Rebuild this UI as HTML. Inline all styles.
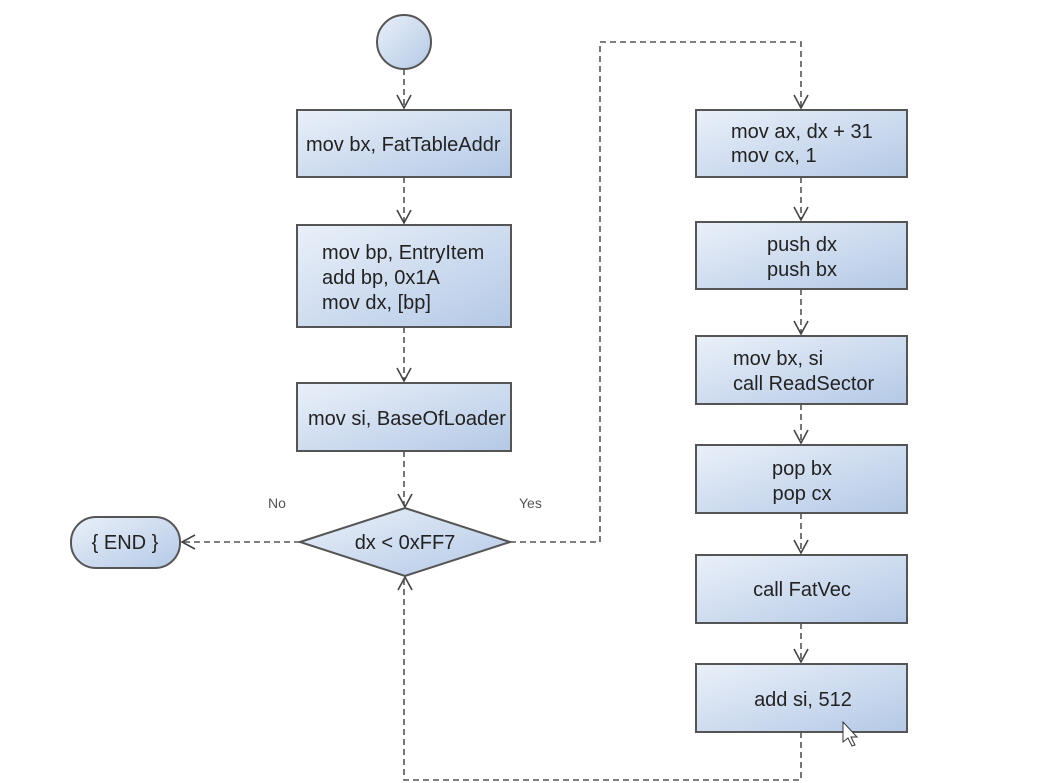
<!DOCTYPE html>
<html><head><meta charset="utf-8"><style>
html,body{margin:0;padding:0;background:#fff;}
svg{display:block;}
text{font-family:"Liberation Sans",sans-serif;font-size:20px;fill:#222;}
</style></head><body>
<svg width="1046" height="783" viewBox="0 0 1046 783" xmlns="http://www.w3.org/2000/svg">
<defs>
<linearGradient id="g" x1="0" y1="0" x2="1" y2="1">
<stop offset="0" stop-color="#eaf0f9"/><stop offset="1" stop-color="#b4c9e6"/>
</linearGradient>
</defs>
<g fill="url(#g)" stroke="#555" stroke-width="2">
<circle cx="404" cy="42" r="27"/>
<rect x="297" y="110" width="214" height="67"/>
<rect x="297" y="225" width="214" height="102"/>
<rect x="297" y="383" width="214" height="68"/>
<polygon points="300,542 405,508 510,542 405,576"/>
<rect x="71" y="517" width="109" height="51" rx="25"/>
<rect x="696" y="110" width="211" height="67"/>
<rect x="696" y="222" width="211" height="67"/>
<rect x="696" y="336" width="211" height="68"/>
<rect x="696" y="445" width="211" height="68"/>
<rect x="696" y="555" width="211" height="68"/>
<rect x="696" y="664" width="211" height="68"/>
</g>
<g fill="none" stroke="#555" stroke-width="1.6" stroke-dasharray="6,4">
<path d="M404 69 V108"/>
<path d="M404 177 V223"/>
<path d="M404 327 V381"/>
<path d="M404 451 V506"/>
<path d="M300 542 H182"/>
<path d="M510 542 H600 V42 H801 V108"/>
<path d="M801 177 V220"/>
<path d="M801 289 V334"/>
<path d="M801 404 V443"/>
<path d="M801 513 V553"/>
<path d="M801 623 V662"/>
<path d="M801 732 V780 H404 V578"/>
</g>
<g fill="none" stroke="#444" stroke-width="1.6">
<path d="M397 95 L404 108 L411 95"/>
<path d="M397 210 L404 223 L411 210"/>
<path d="M397 368 L404 381 L411 368"/>
<path d="M398 494 L405 507 L412 494"/>
<path d="M794 95 L801 108 L808 95"/>
<path d="M794 207 L801 220 L808 207"/>
<path d="M794 321 L801 334 L808 321"/>
<path d="M794 430 L801 443 L808 430"/>
<path d="M794 540 L801 553 L808 540"/>
<path d="M794 649 L801 662 L808 649"/>
<path d="M398 590 L405 577 L412 590"/>
<path d="M195 535 L182 542 L195 549"/>
</g>
<text x="306" y="151">mov bx, FatTableAddr</text>
<text x="322" y="259">mov bp, EntryItem</text>
<text x="322" y="284">add bp, 0x1A</text>
<text x="322" y="309">mov dx, [bp]</text>
<text x="308" y="425">mov si, BaseOfLoader</text>
<text x="405" y="549" text-anchor="middle">dx &lt; 0xFF7</text>
<text x="125" y="549" text-anchor="middle">{ END }</text>
<text x="268" y="508" style="font-size:14px;fill:#555">No</text>
<text x="519" y="508" style="font-size:14px;fill:#555">Yes</text>
<text x="731" y="138">mov ax, dx + 31</text>
<text x="731" y="162">mov cx, 1</text>
<text x="802" y="251" text-anchor="middle">push dx</text>
<text x="802" y="276" text-anchor="middle">push bx</text>
<text x="733" y="365">mov bx, si</text>
<text x="733" y="390">call ReadSector</text>
<text x="802" y="475" text-anchor="middle">pop bx</text>
<text x="802" y="500" text-anchor="middle">pop cx</text>
<text x="802" y="596" text-anchor="middle">call FatVec</text>
<text x="803" y="706" text-anchor="middle">add si, 512</text>
<path d="M843 722 L843 742 L848 738 L852 746 L855 745 L851 737 L857 737 Z" fill="#fff" stroke="#333" stroke-width="1"/>
</svg>
</body></html>
